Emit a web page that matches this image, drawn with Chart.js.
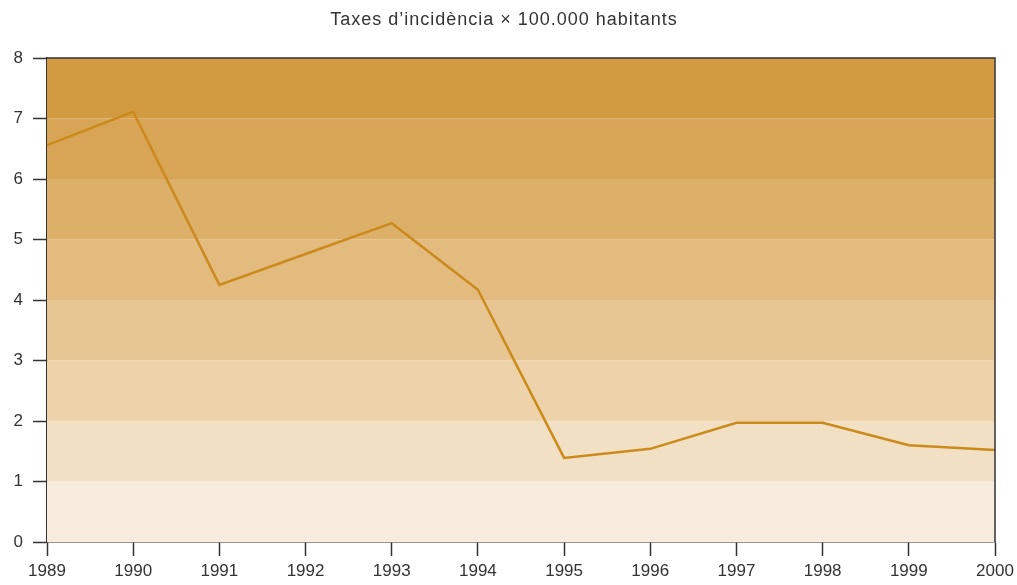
<!DOCTYPE html>
<html>
<head>
<meta charset="utf-8">
<script src="https://cdn.jsdelivr.net/npm/chart.js@4"></script>
<style>
  html, body { margin: 0; padding: 0; background: #fff; }
  #wrap { width: 1017px; height: 585px; }
</style>
</head>
<body>
<div id="wrap"><canvas id="chart" width="1017" height="585"></canvas></div>
<script>
// Years on the x axis
const years = ['1989', '1990', '1991', '1992', '1993', '1994', '1995', '1996', '1997', '1998', '1999', '2000'];
// Incidence rate per 100,000 inhabitants
const rates = [6.56, 7.11, 4.25, 4.76, 5.27, 4.17, 1.39, 1.54, 1.97, 1.97, 1.60, 1.52];
// Y axis ticks
const yTicks = [0, 1, 2, 3, 4, 5, 6, 7, 8];
// Background band colours, from the 0-1 band up to the 7-8 band
const bandColors = ['#f7ecdd', '#f2e0c4', '#eed3aa', '#e8c693', '#e3bb7f', '#ddb06a', '#d8a556', '#d29b42'];
const chartTitle = 'Taxes d\u2019incidència × 100.000 habitants';

const FONT = "'Liberation Sans', Arial, Helvetica, sans-serif";
const INK = '#333333';

// Draws the coloured bands behind the line, then the frame and the title
const bandsPlugin = {
    id: 'bands',
    beforeDatasetsDraw(chart) {
        const { ctx, chartArea, scales } = chart;
        ctx.save();
        bandColors.forEach((color, i) => {
            const top = scales.y.getPixelForValue(i + 1);
            const bottom = scales.y.getPixelForValue(i);
            ctx.fillStyle = color;
            ctx.fillRect(chartArea.left, top, chartArea.right - chartArea.left, bottom - top);
        });
        ctx.restore();
    },
    afterDraw(chart) {
        const { ctx, chartArea } = chart;
        ctx.save();
        ctx.strokeStyle = INK;
        ctx.lineWidth = 1.5;
        ctx.beginPath();
        ctx.moveTo(chartArea.left, chartArea.top);
        ctx.lineTo(chartArea.right, chartArea.top);
        ctx.lineTo(chartArea.right, chartArea.bottom);
        ctx.stroke();

        // title, slightly letter-spaced like the original
        ctx.fillStyle = INK;
        ctx.font = '18px ' + FONT;
        ctx.letterSpacing = '1px';
        ctx.textAlign = 'center';
        ctx.textBaseline = 'middle';
        ctx.fillText(chartTitle, 504, 20);
        ctx.restore();
    }
};

const config = {
    type: 'line',
    data: {
        labels: years,
        datasets: [{
            data: rates,
            borderColor: '#cc8a1a',
            borderWidth: 2.5,
            pointRadius: 0,
            tension: 0,
            fill: false
        }]
    },
    options: {
        responsive: false,
        animation: false,
        layout: { padding: { top: 58, right: 22 } },
        plugins: {
            legend: { display: false },
            tooltip: { enabled: false },
            title: { display: false }
        },
        scales: {
            x: {
                offset: false,
                afterFit: scale => {
                    scale.height = 43;
                    scale.paddingLeft = 0;
                    scale.paddingRight = 0;
                },
                grid: {
                    drawOnChartArea: false,
                    drawTicks: true,
                    tickLength: 14,
                    tickColor: INK,
                    tickWidth: 1.5
                },
                border: { display: true, color: INK, width: 1.5 },
                ticks: {
                    color: INK,
                    padding: 5,
                    maxRotation: 0,
                    autoSkip: false,
                    font: { family: FONT, size: 17 }
                }
            },
            y: {
                min: yTicks[0],
                max: yTicks[yTicks.length - 1],
                afterFit: scale => { scale.width = 47; },
                afterBuildTicks: scale => { scale.ticks = yTicks.map(v => ({ value: v })); },
                grid: {
                    drawOnChartArea: false,
                    drawTicks: true,
                    tickLength: 14,
                    tickColor: INK,
                    tickWidth: 1.5
                },
                border: { display: true, color: INK, width: 1.5 },
                ticks: {
                    color: INK,
                    padding: 10,
                    font: { family: FONT, size: 17 }
                }
            }
        }
    },
    plugins: [bandsPlugin]
};

new Chart(document.getElementById('chart').getContext('2d'), config);
</script>
</body>
</html>
